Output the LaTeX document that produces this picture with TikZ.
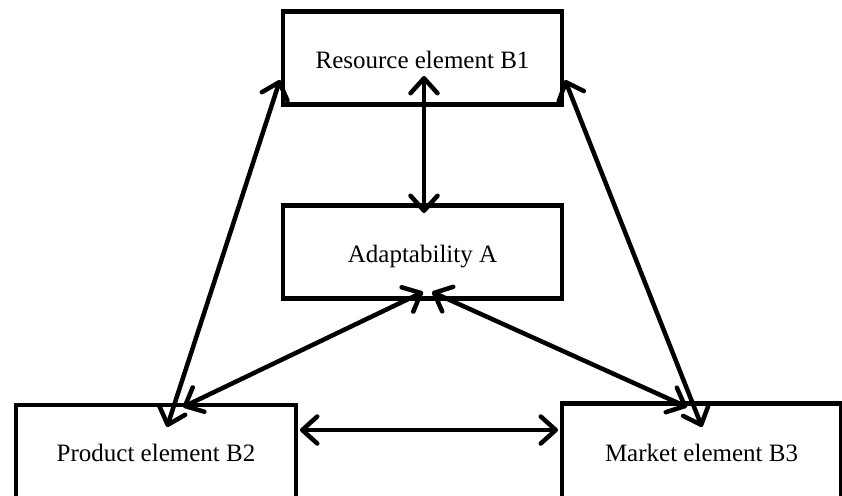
\documentclass[tikz,border=0pt]{standalone}
\usepackage{fontspec}
\setmainfont{Liberation Serif}
\usetikzlibrary{arrows.meta}

\tikzset{
  elembox/.style={draw=black, line width=4.5pt, fill=white, rectangle,
    outer sep=0pt, inner sep=0pt, minimum width=279pt, minimum height=93pt,
    text height=20pt, text depth=0pt,
    font=\fontsize{25}{29}\selectfont},
  link/.style={line width=4.5pt, line cap=round,
    {Straight Barb[length=15pt,width=27pt,round]}-{Straight Barb[length=15pt,width=27pt,round]}}
}

\begin{document}
\begin{tikzpicture}[x=1pt,y=-1pt]
  \useasboundingbox (0,0) rectangle (842,495);
  \clip (0,0) rectangle (842,495);
  \fill[white] (0,0) rectangle (842,495);

  % element boxes
  \node[elembox] (B1) at (422.5,58)  {Resource element B1};
  \node[elembox] (A)  at (422.5,252) {Adaptability A};
  \node[elembox, minimum width=280pt] (B2) at (156,451.5) {Product element B2};
  \node[elembox, minimum height=96pt] (B3) at (701.5,451.5) {Market element B3};

  % two-way links
  \draw[link] ([xshift=1.5pt,yshift=-18pt]B1.center) -- ([xshift=1.5pt,yshift=-7.5pt]A.north);
  \draw[link] ([xshift=-3pt,yshift=-22pt]B1.west) -- ([xshift=11pt,yshift=-22pt]B2.north);
  \draw[link] ([xshift=3pt,yshift=-22pt]B1.east) -- ([xshift=0.5pt,yshift=-23.5pt]B3.north);
  \draw[link] ([xshift=0.5pt,yshift=6.5pt]A.south) -- ([xshift=27pt,yshift=-2pt]B2.north);
  \draw[link] ([xshift=9.5pt,yshift=6.5pt]A.south) -- ([xshift=-14.5pt,yshift=-3.5pt]B3.north);
  \draw[link] ([xshift=4pt,yshift=21.5pt]B2.east) -- ([xshift=-4pt,yshift=21.5pt]B3.west);
\end{tikzpicture}
\end{document}
